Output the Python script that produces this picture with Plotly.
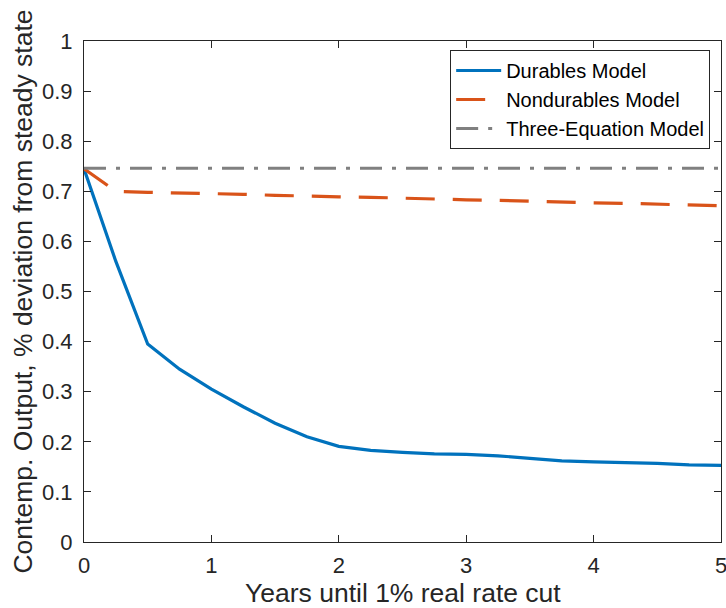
import plotly.graph_objects as go

# Horizon (years until the real rate cut), quarterly grid
years = [0.0, 0.25, 0.5, 0.75, 1.0, 1.25, 1.5, 1.75, 2.0, 2.25, 2.5,
         2.75, 3.0, 3.25, 3.5, 3.75, 4.0, 4.25, 4.5, 4.75, 5.0]

# Contemporaneous output response, % deviation from steady state
durables = [0.745, 0.560, 0.395, 0.345, 0.305, 0.270, 0.237, 0.210, 0.191,
            0.183, 0.179, 0.176, 0.175, 0.172, 0.167, 0.162, 0.160, 0.159,
            0.157, 0.154, 0.153]
nondurables = [0.745, 0.700, 0.698, 0.697, 0.695, 0.694, 0.692, 0.690, 0.689,
               0.688, 0.686, 0.685, 0.683, 0.682, 0.680, 0.679, 0.677, 0.676,
               0.674, 0.673, 0.671]
three_equation = [0.746] * len(years)

x_ticks = [0, 1, 2, 3, 4, 5]
y_ticks = [0, 0.1, 0.2, 0.3, 0.4, 0.5, 0.6, 0.7, 0.8, 0.9, 1]
y_tick_text = ["0", "0.1", "0.2", "0.3", "0.4", "0.5", "0.6", "0.7", "0.8", "0.9", "1"]

x_label = "Years until 1% real rate cut"
y_label = "Contemp. Output, % deviation from steady state"

BLUE = "#0072BD"
ORANGE = "#D95319"
GRAY = "#808080"
INK = "#262626"
FONT = "Liberation Sans, Arial, Helvetica, sans-serif"

fig = go.Figure()
fig.add_trace(go.Scatter(
    x=years, y=durables, mode="lines", name="Durables Model",
    line=dict(color=BLUE, width=3.2),
))
fig.add_trace(go.Scatter(
    x=years, y=nondurables, mode="lines", name="Nondurables Model",
    line=dict(color=ORANGE, width=3.2, dash="29px,18px"),
))
fig.add_trace(go.Scatter(
    x=years, y=three_equation, mode="lines", name="Three-Equation Model",
    line=dict(color=GRAY, width=3.2, dash="22px,10px,4px,10px"),
))

axis_common = dict(
    showgrid=False, zeroline=False, showline=True, linecolor=INK, linewidth=1,
    mirror="ticks", ticks="inside", ticklen=7, tickwidth=1, tickcolor=INK,
    tickfont=dict(family=FONT, size=22, color=INK),
    ticklabeloverflow="allow",
)

fig.update_xaxes(
    range=[0, 5], tickvals=x_ticks, ticktext=[str(t) for t in x_ticks],
    ticklabelstandoff=4,
    **axis_common,
)
fig.update_yaxes(
    range=[0, 1], tickvals=y_ticks, ticktext=y_tick_text,
    title=dict(text=y_label,
               font=dict(family=FONT, size=26.5, color=INK), standoff=1),
    ticklabelstandoff=6,
    **axis_common,
)

# x-axis label placed just above the bottom edge of the figure
fig.add_annotation(
    text=x_label, xref="paper", yref="paper", x=0.5, y=-0.1025,
    xanchor="center", yanchor="middle", showarrow=False,
    font=dict(family=FONT, size=26.5, color=INK),
)

fig.update_layout(
    width=726, height=608,
    margin=dict(l=84, r=5, t=41, b=66, autoexpand=False),
    paper_bgcolor="white", plot_bgcolor="white",
    font=dict(family=FONT, color=INK),
    showlegend=True,
    legend=dict(
        x=0.983, y=0.982, xanchor="right", yanchor="top",
        bgcolor="white", bordercolor=INK, borderwidth=1,
        font=dict(family=FONT, size=20, color="black"),
        tracegroupgap=0, itemwidth=45,
    ),
)

fig.write_html("out.html")
